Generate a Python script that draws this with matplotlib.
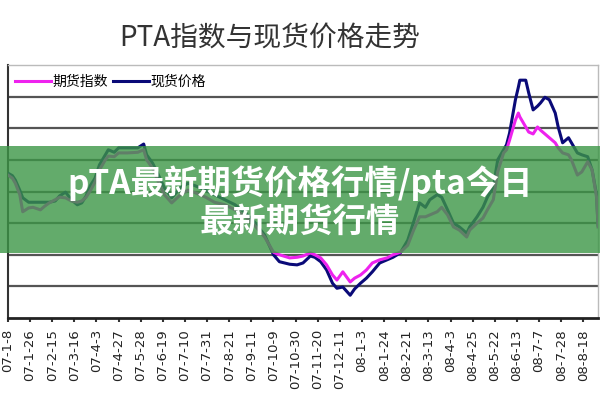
import matplotlib
matplotlib.use("Agg")
import matplotlib.pyplot as plt
from matplotlib.patches import Rectangle

plt.rcParams['font.family'] = ['Noto Sans CJK SC', 'DejaVu Sans']

# trading-day index of each sampled point
days = [0, 3, 5, 8, 10, 14, 17, 22, 25, 28, 32, 35, 39, 43, 47, 50, 53, 56, 59, 62,
        66, 68, 72, 75, 81, 88, 92, 94, 98, 102, 106, 111, 117, 122, 127, 134, 140, 147, 154, 161,
        167, 174, 180, 184, 191, 196, 200, 205, 208, 212, 216, 220, 223, 227, 232, 235, 239, 243, 247, 252,
        257, 261, 266, 271, 275, 279, 283, 286, 291, 294, 298, 302, 306, 311, 313, 318, 322, 325, 329, 332,
        336, 338, 340, 344, 346, 347, 351, 353, 356, 359, 361, 364, 367, 371, 373, 376, 380, 382, 386, 389,
        393, 396, 399, 400]

# 期货指数
futures = [8260, 8210, 8130, 7950, 7680, 7740, 7750, 7710, 7770, 7820,
           7870, 7910, 7900, 7850, 7830, 7850, 7910, 8020, 8150, 8340,
           8500, 8560, 8550, 8610, 8610, 8620, 8660, 8500, 8370, 8150,
           7950, 7820, 7950, 8020, 7980, 7910, 7830, 7790, 7710, 7600,
           7470, 7280, 7040, 7000, 6950, 6960, 6980, 7030, 7000, 6950,
           6840, 6680, 6600, 6730, 6570, 6630, 6680, 6760, 6870, 6920,
           6950, 7000, 7040, 7150, 7390, 7600, 7600, 7630, 7680, 7750,
           7630, 7440, 7390, 7280, 7390, 7500, 7580, 7710, 7870, 8310,
           8610, 8660, 8810, 9130, 9240, 9180, 9020, 8940, 8910, 9020,
           8970, 8910, 8850, 8770, 8690, 8610, 8580, 8500, 8260, 8310,
           8470, 8340, 7910, 7440]

# 现货价格
spot = [8290, 8250, 8180, 8020, 7900, 7830, 7830, 7830, 7830, 7830,
        7850, 7930, 7990, 7870, 7790, 7820, 7930, 8100, 8210, 8420,
        8580, 8660, 8620, 8690, 8690, 8690, 8750, 8580, 8450, 8260,
        8060, 7900, 8060, 8130, 8090, 8020, 7950, 7870, 7790, 7660,
        7520, 7310, 7000, 6890, 6850, 6840, 6870, 6980, 6960, 6890,
        6760, 6550, 6470, 6490, 6360, 6460, 6550, 6630, 6730, 6870,
        6920, 6960, 7030, 7230, 7520, 7820, 7750, 7870, 7950, 7910,
        7710, 7500, 7440, 7340, 7440, 7600, 7750, 7910, 8070, 8500,
        8660, 8740, 8920, 9450, 9650, 9760, 9760, 9560, 9290, 9350,
        9400, 9490, 9450, 9240, 9020, 8770, 8850, 8770, 8610, 8580,
        8550, 8340, 7950, 7470]

tick_days = [0, 15, 30, 45, 60, 75, 90, 105, 120, 135, 150, 165, 180, 195,
             210, 225, 240, 255, 270, 285, 300, 315, 330, 345, 360, 375, 390]
tick_labels = ['07-1-8', '07-1-26', '07-2-15', '07-3-16', '07-4-3', '07-4-27', '07-5-28',
               '07-6-19', '07-7-10', '07-7-31', '07-8-21', '07-9-11', '07-10-9', '07-10-30',
               '07-11-20', '07-12-11', '08-1-3', '08-1-24', '08-2-21', '08-3-13', '08-4-3',
               '08-4-25', '08-5-22', '08-6-13', '08-7-7', '08-7-28', '08-8-18']
grid_levels = [6500, 7000, 7500, 8000, 8500, 9000, 9500]

fig = plt.figure(figsize=(6, 4), dpi=100)
fig.patch.set_facecolor('white')
ax = fig.add_axes([0.0133, 0.205, 0.9834, 0.6325])

for g in grid_levels:
    ax.axhline(g, color='#555555', lw=1.6, zorder=1)

ax.plot(days, spot, color='#0a0a78', lw=2.2, label='现货价格', zorder=3)
ax.plot(days, futures, color='#ee22ee', lw=2.2, label='期货指数', zorder=4)

ax.set_xlim(0, 400)
ax.set_ylim(6000, 10000)
ax.set_yticks([])
ax.set_xticks(tick_days)
ax.set_xticklabels(tick_labels, rotation=90, fontsize=9.5, family='DejaVu Sans', color='#222222')
ax.tick_params(axis='x', length=3, width=1.5, color='#333333', pad=5)

for s in ['top', 'right']:
    ax.spines[s].set_color('#bbbbbb')
    ax.spines[s].set_linewidth(1)
ax.spines['left'].set_color('#333333')
ax.spines['left'].set_linewidth(1.5)
ax.spines['bottom'].set_color('#222222')
ax.spines['bottom'].set_linewidth(2)

handles, labels = ax.get_legend_handles_labels()
ax.legend([handles[1], handles[0]], [labels[1], labels[0]], loc='upper left',
          bbox_to_anchor=(-0.005, 1.0), ncol=2, frameon=False, fontsize=10,
          handlelength=2.6, handletextpad=0.1, columnspacing=0.4, borderaxespad=0.3)

fig.text(0.45, 0.905, 'PTA指数与现货价格走势', ha='center', va='center',
         fontsize=20, color='#333333')

# green banner with white text over the chart
band = Rectangle((0, 0.3675), 1, 0.2675, transform=fig.transFigure,
                 facecolor='#3c9646', alpha=0.8, edgecolor='none', zorder=5)
fig.add_artist(band)
fig.text(0.5, 0.5425, 'pTA最新期货价格行情/pta今日', ha='center', va='center',
         fontsize=24, fontweight='bold', color='white', zorder=6)
fig.text(0.5, 0.445, '最新期货行情', ha='center', va='center',
         fontsize=24, fontweight='bold', color='white', zorder=6)

fig.savefig('out.png', dpi=100)
